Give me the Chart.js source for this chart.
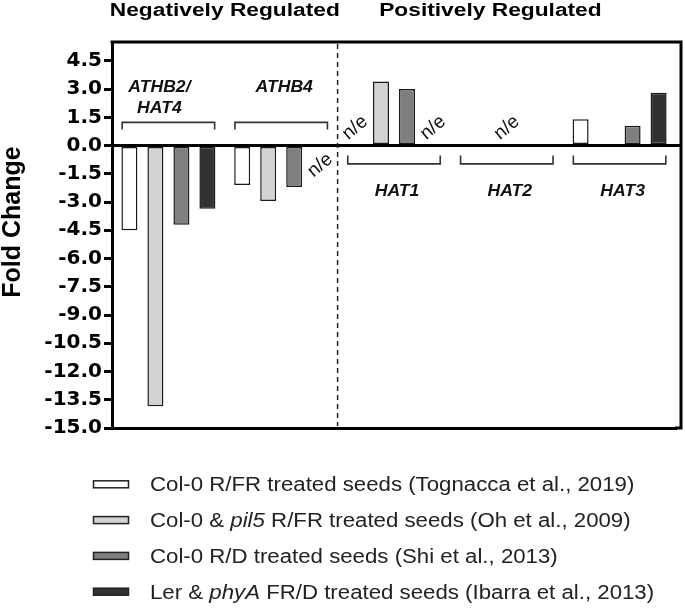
<!DOCTYPE html>
<html>
<head>
<meta charset="utf-8">
<script src="https://cdn.jsdelivr.net/npm/chart.js@4.4.1/dist/chart.umd.min.js"></script>
<style>
  html, body { margin: 0; padding: 0; background: #fff; }
</style>
</head>
<body>
<canvas id="myChart" width="685" height="609"></canvas>
<script>
// genes on the x axis, first two are the negatively regulated group
const genes = ['ATHB2/HAT4', 'ATHB4', 'HAT1', 'HAT2', 'HAT3'];
const negativeCount = 2;
const groupHeadings = ['Negatively Regulated', 'Positively Regulated'];

// fold change per study (null = not shown)
const tognacca = [-4.5, -2.1, null, null, 1.4];
const oh = [-13.85, -2.95, 3.4, null, null];
const shi = [-4.2, -2.2, 3.0, null, 1.05];
const ibarra = [-3.35, null, null, null, 2.8];

const seriesNames = [
  'Col-0 R/FR treated seeds (Tognacca et al., 2019)',
  'Col-0 & pil5 R/FR treated seeds (Oh et al., 2009)',
  'Col-0 R/D treated seeds (Shi et al., 2013)',
  'Ler & phyA FR/D treated seeds (Ibarra et al., 2013)'
];
const italicWords = ['pil5', 'phyA'];
const seriesColors = ['#ffffff', '#d3d3d3', '#7f7f7f', '#323232'];

// "n/e" marks: gene, series index (null = whole gene)
const notExpressed = [['ATHB4', 3], ['HAT1', 0], ['HAT1', 3], ['HAT2', null]];

const yTicks = [4.5, 3.0, 1.5, 0.0, -1.5, -3.0, -4.5, -6.0, -7.5, -9.0, -10.5, -12.0, -13.5, -15.0];
const yMin = -15;
const yMax = 5.5;
const yTitle = 'Fold Change';

const seriesData = [tognacca, oh, shi, ibarra];

// draws frame, divider, brackets, gene names, n/e, headings, y title and legend
const annotate = {
  id: 'annotate',
  afterDraw(chart) {
    const ctx = chart.ctx;
    const area = chart.chartArea;
    const x = chart.scales.x;
    const y = chart.scales.y;
    const frameRight = area.right + 5;
    const zero = y.getPixelForValue(0);
    const catW = x.getPixelForValue(1) - x.getPixelForValue(0);
    const divider = (x.getPixelForValue(negativeCount - 1) + x.getPixelForValue(negativeCount)) / 2;

    ctx.save();
    // frame top + right, and the zero / bottom lines carried to the frame
    ctx.strokeStyle = '#000';
    ctx.lineWidth = 3;
    ctx.beginPath();
    ctx.moveTo(area.left - 1.5, area.top);
    ctx.lineTo(frameRight, area.top);
    ctx.lineTo(frameRight, area.bottom + 1.5);
    ctx.moveTo(area.right - 1, zero);
    ctx.lineTo(frameRight, zero);
    ctx.moveTo(area.right - 1, area.bottom);
    ctx.lineTo(frameRight, area.bottom);
    ctx.stroke();

    // dashed divider
    ctx.lineWidth = 1.5;
    ctx.strokeStyle = '#222';
    ctx.setLineDash([5, 4]);
    ctx.beginPath();
    ctx.moveTo(divider, area.top + 2);
    ctx.lineTo(divider, area.bottom - 2);
    ctx.stroke();
    ctx.setLineDash([]);

    // brackets and gene names
    ctx.strokeStyle = '#333';
    ctx.lineWidth = 1.6;
    ctx.fillStyle = '#111';
    ctx.textAlign = 'center';
    ctx.textBaseline = 'middle';
    genes.forEach((g, i) => {
      const cx = x.getPixelForValue(i);
      const half = catW * 0.41;
      const neg = i < negativeCount;
      const yLine = y.getPixelForValue(neg ? 1.23 : -0.97);
      const yLeg = y.getPixelForValue(neg ? 0.85 : -0.53);
      ctx.beginPath();
      ctx.moveTo(cx - half, yLeg);
      ctx.lineTo(cx - half, yLine);
      ctx.lineTo(cx + half, yLine);
      ctx.lineTo(cx + half, yLeg);
      ctx.stroke();

      const lines = g.includes('/') ? [g.split('/')[0] + '/', g.split('/')[1]] : [g];
      const tx = lines.length > 1 ? cx - 9 : cx + 3;
      lines.forEach((t, k) => {
        const ty = neg ? y.getPixelForValue(3.1 - k * 1.15) : y.getPixelForValue(-2.47);
        ctx.save();
        ctx.translate(tx, ty);
        ctx.scale(1.1, 1);
        ctx.font = 'italic bold 16px "Liberation Sans", Arial, sans-serif';
        ctx.fillText(t, 0, 0);
        ctx.restore();
      });
    });

    // n/e labels
    notExpressed.forEach(([g, s]) => {
      const gi = genes.indexOf(g);
      const px = s === null ? x.getPixelForValue(gi) : chart.getDatasetMeta(s).data[gi].x;
      const py = y.getPixelForValue(gi < negativeCount ? -1.05 : 0.95);
      ctx.save();
      ctx.translate(px, py);
      ctx.rotate(-40 * Math.PI / 180);
      ctx.font = '19px "Liberation Sans", Arial, sans-serif';
      ctx.fillStyle = '#111';
      ctx.fillText('n/e', 0, 0);
      ctx.restore();
    });

    // headings
    const headX = [(area.left + divider) / 2, divider + (frameRight - divider) * 0.445];
    groupHeadings.forEach((h, i) => {
      ctx.save();
      ctx.translate(headX[i], 11);
      ctx.scale(1.3, 1);
      ctx.font = 'bold 17.5px "Liberation Sans", Arial, sans-serif';
      ctx.fillStyle = '#000';
      ctx.fillText(h, 0, 0);
      ctx.restore();
    });

    // y title
    ctx.save();
    ctx.translate(13, 222);
    ctx.rotate(-Math.PI / 2);
    ctx.font = 'bold 25px "Liberation Sans", Arial, sans-serif';
    ctx.fillStyle = '#000';
    ctx.fillText(yTitle, 0, 0);
    ctx.restore();

    // legend
    seriesNames.forEach((name, i) => {
      const cy = 484.3 + i * 35.8;
      ctx.fillStyle = seriesColors[i];
      ctx.strokeStyle = '#222';
      ctx.lineWidth = 1.5;
      ctx.fillRect(93.5, cy - 3.5, 35, 7);
      ctx.strokeRect(93.5, cy - 3.5, 35, 7);

      const parts = name.split(new RegExp('(' + italicWords.join('|') + ')'));
      ctx.save();
      ctx.translate(150, cy + 7);
      ctx.scale(1.14, 1);
      ctx.textAlign = 'left';
      ctx.textBaseline = 'alphabetic';
      ctx.fillStyle = '#222';
      let cx = 0;
      parts.forEach(p => {
        if (!p) return;
        ctx.font = (italicWords.includes(p) ? 'italic ' : '') + '19.5px "Liberation Sans", Arial, sans-serif';
        ctx.fillText(p, cx, 0);
        cx += ctx.measureText(p).width;
      });
      ctx.restore();
    });
    ctx.restore();
  }
};

new Chart(document.getElementById('myChart'), {
  type: 'bar',
  data: {
    labels: genes,
    datasets: seriesData.map((d, i) => ({
      label: seriesNames[i],
      data: d,
      backgroundColor: seriesColors[i],
      borderColor: '#1a1a1a',
      borderWidth: 1.5,
      borderSkipped: false,
      barPercentage: 0.615,
      categoryPercentage: 0.922
    }))
  },
  options: {
    responsive: false,
    animation: false,
    layout: { padding: { top: 42, right: 9, bottom: 181, left: 0 } },
    plugins: {
      legend: { display: false },
      tooltip: { enabled: false }
    },
    scales: {
      x: {
        grid: { display: false },
        ticks: { display: false },
        border: { display: true, color: '#000', width: 3 },
        afterFit(scale) { scale.height = 0; }
      },
      y: {
        min: yMin,
        max: yMax,
        afterBuildTicks(scale) { scale.ticks = yTicks.map(v => ({ value: v })); },
        afterFit(scale) { scale.width = 112; },
        ticks: {
          autoSkip: false,
          padding: 2,
          color: '#000',
          font: { family: 'DejaVu Sans', weight: 'bold', size: 20 },
          callback: v => Number(v).toFixed(1)
        },
        grid: {
          drawOnChartArea: true,
          color: c => (c.tick && c.tick.value === 0 ? '#000' : 'rgba(0,0,0,0)'),
          lineWidth: 3,
          tickColor: '#000',
          tickWidth: 3,
          tickLength: 8
        },
        border: { display: true, color: '#000', width: 3 }
      }
    }
  },
  plugins: [annotate]
});
</script>
</body>
</html>
